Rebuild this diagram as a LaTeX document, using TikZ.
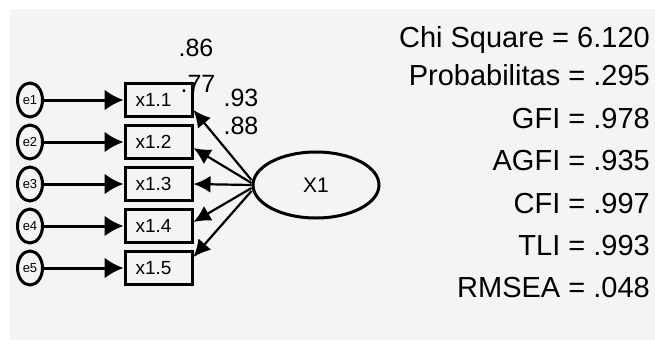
\documentclass[tikz,border=0pt]{standalone}
\usepackage{fontspec}
\setmainfont{Liberation Sans}
\usetikzlibrary{arrows.meta,calc,shapes.geometric}
\definecolor{bggray}{RGB}{244,244,244}
\begin{document}
\begin{tikzpicture}[x=1pt,y=-1pt,
  errnode/.style={draw, ellipse, line width=3pt, minimum width=25pt, minimum height=34pt, inner sep=0pt, font=\fontsize{13}{13}\selectfont},
  obsbox/.style={draw, rectangle, line width=3pt, minimum width=67pt, minimum height=33pt, inner sep=0pt, font=\fontsize{19}{19}\selectfont, text width=46pt, align=left},
  latent/.style={draw, ellipse, line width=3pt, minimum width=126pt, minimum height=66pt, inner sep=0pt, font=\fontsize{21}{21}\selectfont},
  errarrow/.style={line width=3pt, -{Latex[length=19pt,width=21pt]}},
  loadarrow/.style={line width=2.2pt, -{Latex[length=17pt,width=17pt]}},
  stat/.style={anchor=base east, font=\fontsize{29}{29}\selectfont, inner sep=0pt},
  est/.style={font=\fontsize{25}{25}\selectfont, inner sep=0pt}
]
\useasboundingbox (0,0) rectangle (655,351);
\fill[white] (0,0) rectangle (655,351);
\fill[bggray] (10,9) rectangle (655,340);

% error terms
\node[errnode] (e1) at (30,100) {e1};
\node[errnode] (e2) at (30,142) {e2};
\node[errnode] (e3) at (30,184) {e3};
\node[errnode] (e4) at (30,226) {e4};
\node[errnode] (e5) at (30,268) {e5};

% observed indicators
\node[obsbox] (b1) at (158.5,100) {x1.1};
\node[obsbox] (b2) at (158.5,142) {x1.2};
\node[obsbox] (b3) at (158.5,184) {x1.3};
\node[obsbox] (b4) at (158.5,226) {x1.4};
\node[obsbox] (b5) at (158.5,268) {x1.5};

% latent
\node[latent] (X1) at (316,185) {X1};

% error arrows
\foreach \i in {1,...,5}{
  \draw[errarrow] (e\i) -- (b\i);
}

% loadings
\draw[loadarrow] ($(X1.west)+(0,-5)$) -- ($(b1.east)+(0,10)$);
\draw[loadarrow] ($(X1.west)+(0,-2)$) -- ($(b2.east)+(0,6)$);
\draw[loadarrow] (X1.west) -- (b3.east);
\draw[loadarrow] ($(X1.west)+(0,3)$) -- ($(b4.east)+(0,-4)$);
\draw[loadarrow] ($(X1.west)+(0,6)$) -- ($(b5.east)+(0,-11)$);

% estimates
\node[est] (l86) at (196,48) {.86};
\node[est] (l77) at (198,84) {.77};
\node[est] (l93) at (241,98) {.93};
\node[est] (l88) at (241,126) {.88};

% fit statistics
\node[stat] (s1) at (650,47) {Chi Square = 6.120};
\node[stat] (s2) at (650,85) {Probabilitas = .295};
\node[stat] (s3) at (650,128) {GFI = .978};
\node[stat] (s4) at (650,170) {AGFI = .935};
\node[stat] (s5) at (650,213) {CFI = .997};
\node[stat] (s6) at (650,255) {TLI = .993};
\node[stat] (s7) at (650,297) {RMSEA = .048};
\end{tikzpicture}
\end{document}
